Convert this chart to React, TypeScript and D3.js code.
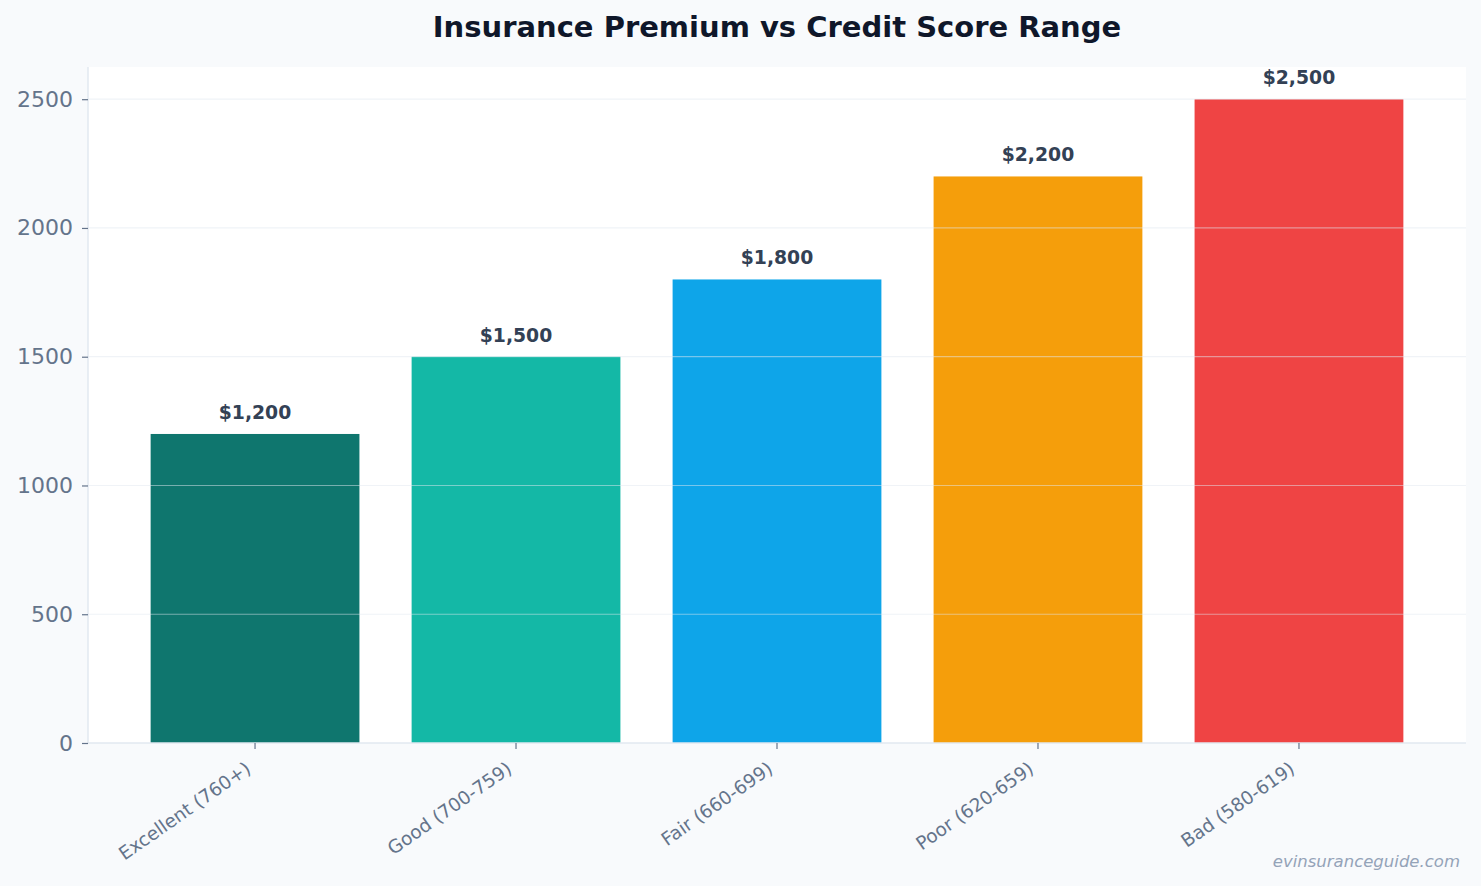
import { useEffect, useRef } from "react";
import * as d3 from "d3";

const categories = [
  "Excellent (760+)",
  "Good (700-759)",
  "Fair (660-699)",
  "Poor (620-659)",
  "Bad (580-619)",
];
const premiums = [1200, 1500, 1800, 2200, 2500];
const barColors = ["#0f766e", "#14b8a6", "#0ea5e9", "#f59e0b", "#ef4444"];
const yTicks = [0, 500, 1000, 1500, 2000, 2500];

const WIDTH = 1481;
const HEIGHT = 886;
const LEFT = 88;
const RIGHT = 1466;
const TOP = 67;
const BOTTOM = 743;
const FONT = "'DejaVu Sans', Verdana, sans-serif";

const App = () => {
  const gX = useRef<SVGGElement | null>(null);
  const gY = useRef<SVGGElement | null>(null);

  const x = d3
    .scaleBand<string>()
    .domain(categories)
    .range([LEFT, RIGHT])
    .paddingInner(0.2)
    .paddingOuter(0.24);
  const y = d3.scaleLinear().domain([0, 2625]).range([BOTTOM, TOP]);

  useEffect(() => {
    if (gY.current) {
      const g = d3.select(gY.current);
      g.call(d3.axisLeft(y).tickValues(yTicks).tickSize(6).tickPadding(9).tickFormat(d3.format("d")));
      g.select(".domain").remove();
      g.selectAll(".tick line").attr("stroke", "#64748b").attr("stroke-width", 1.2);
      g.selectAll(".tick text")
        .attr("fill", "#64748b")
        .style("font-size", "22px")
        .style("font-family", FONT);
    }
    if (gX.current) {
      const g = d3.select(gX.current);
      g.call(d3.axisBottom(x).tickSize(6).tickPadding(6));
      g.select(".domain").remove();
      g.selectAll(".tick line").attr("stroke", "#64748b").attr("stroke-width", 1.2);
      // rotated labels, right end tucked under the tick like matplotlib's ha="right"
      g.selectAll(".tick text")
        .attr("fill", "#64748b")
        .style("font-size", "18.5px")
        .style("font-family", FONT)
        .attr("text-anchor", "end")
        .attr("x", -11)
        .attr("y", 17)
        .attr("dy", "0.76em")
        .attr("transform", "rotate(-35, -11, 17)");
    }
  }, [x, y]);

  return (
    <div style={{ position: "fixed", left: 0, top: 0 }}>
      <svg width={WIDTH} height={HEIGHT} style={{ display: "block" }}>
        <rect width={WIDTH} height={HEIGHT} fill="#f8fafc" />
        <rect x={LEFT} y={TOP} width={RIGHT - LEFT} height={BOTTOM - TOP} fill="#ffffff" />

        <text
          x={(LEFT + RIGHT) / 2}
          y={37}
          textAnchor="middle"
          fontFamily={FONT}
          fontWeight="bold"
          fontSize={29}
          fill="#0f172a"
        >
          Insurance Premium vs Credit Score Range
        </text>

        <g>
          {categories.map((c, i) => (
            <rect
              key={c}
              x={x(c)}
              y={y(premiums[i])}
              width={x.bandwidth()}
              height={BOTTOM - y(premiums[i])}
              fill={barColors[i]}
            />
          ))}
        </g>

        <g>
          {yTicks.slice(1).map((t) => (
            <line
              key={t}
              x1={LEFT}
              x2={RIGHT}
              y1={y(t)}
              y2={y(t)}
              stroke="#e2e8f0"
              strokeOpacity={0.5}
              strokeWidth={1.2}
            />
          ))}
        </g>

        <line x1={LEFT} x2={LEFT} y1={TOP} y2={BOTTOM} stroke="#e2e8f0" strokeWidth={1.5} />
        <line x1={LEFT} x2={RIGHT} y1={BOTTOM} y2={BOTTOM} stroke="#e2e8f0" strokeWidth={1.5} />

        <g>
          {categories.map((c, i) => (
            <text
              key={c}
              x={(x(c) ?? 0) + x.bandwidth() / 2}
              y={y(premiums[i]) - 15}
              textAnchor="middle"
              fontFamily={FONT}
              fontWeight="bold"
              fontSize={18.8}
              fill="#334155"
            >
              {d3.format("$,")(premiums[i])}
            </text>
          ))}
        </g>

        <g ref={gY} transform={`translate(${LEFT},0)`} />
        <g ref={gX} transform={`translate(0,${BOTTOM})`} />

        <text
          x={1460}
          y={867}
          textAnchor="end"
          fontFamily={FONT}
          fontStyle="italic"
          fontSize={16.5}
          fill="#94a3b8"
        >
          evinsuranceguide.com
        </text>
      </svg>
    </div>
  );
};

export default App;
